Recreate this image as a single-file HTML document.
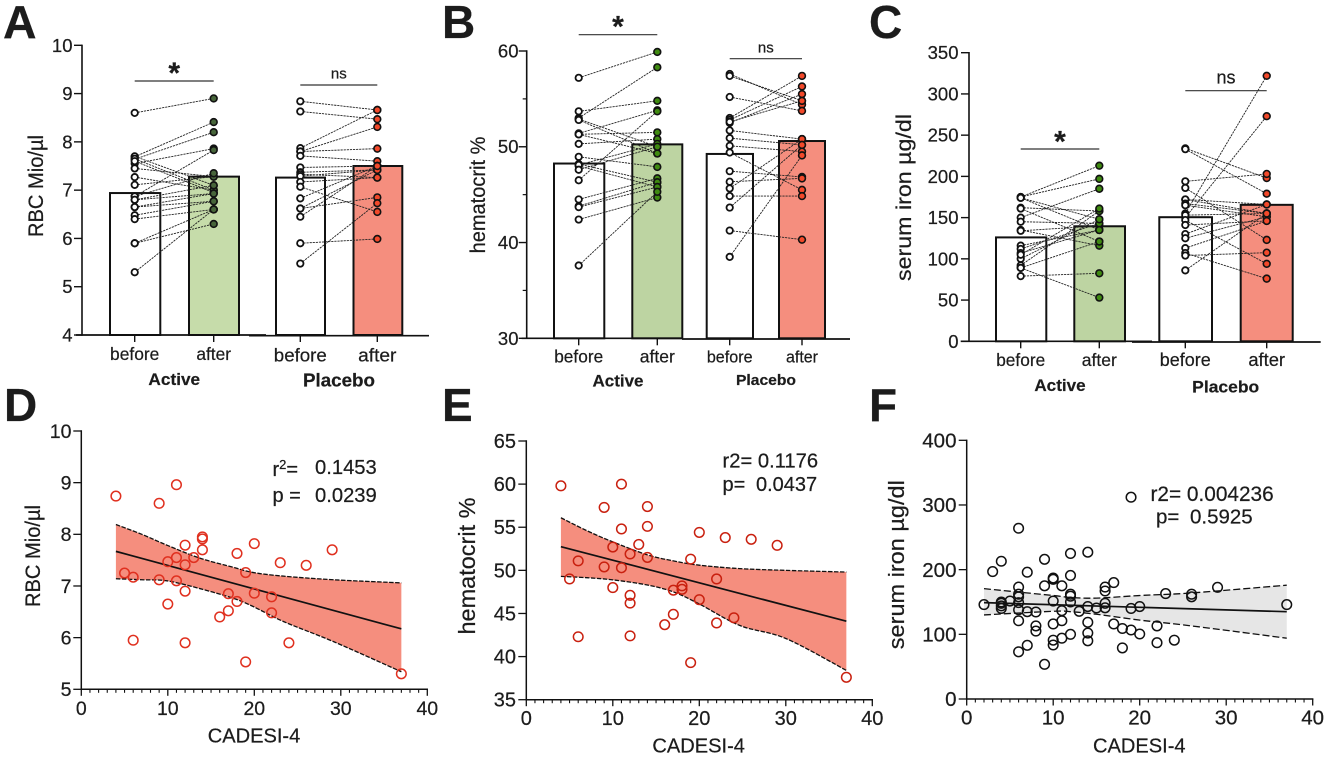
<!DOCTYPE html>
<html lang="en">
<head>
<meta charset="utf-8">
<title>RBC, hematocrit and serum iron before and after treatment</title>
<style>
html,body{margin:0;padding:0;background:#fff;width:1325px;height:757px;overflow:hidden}
svg{display:block}
text{font-family:"Liberation Sans",Arial,sans-serif;fill:#1c1c1c;stroke:#1c1c1c;stroke-width:.22}
</style>
</head>
<body>
<svg id="fig" width="1325" height="757" viewBox="0 0 1325 757" xmlns="http://www.w3.org/2000/svg">
  <text x="3" y="38" font-size="46.5" font-weight="700">A</text>
  <text x="442" y="38" font-size="46" font-weight="700">B</text>
  <text x="869" y="38" font-size="46" font-weight="700">C</text>
  <text x="4" y="421" font-size="46" font-weight="700">D</text>
  <text x="442" y="421" font-size="46" font-weight="700">E</text>
  <text x="869" y="421" font-size="46" font-weight="700">F</text>

  <g id="panelA"></g>
  <g id="panelB"></g>
  <g id="panelC"></g>
  <g id="panelD"></g>
  <g id="panelE"></g>
  <g id="panelF"></g>

  <text x="272.5" y="476" font-size="20">r<tspan dy="-7" font-size="13">2</tspan><tspan dy="7">=</tspan></text>
  <text x="315" y="474" font-size="20.2">0.1453</text>
  <text x="272.5" y="502" font-size="20">p =</text>
  <text x="315" y="502" font-size="20.2">0.0239</text>

  <text x="722.5" y="467.5" font-size="20.2">r2= 0.1176</text>
  <text x="722.5" y="491" font-size="20">p=</text>
  <text x="756" y="491" font-size="20">0.0437</text>

  <text x="1150.5" y="501" font-size="20.8">r2= 0.004236</text>
  <text x="1156" y="523.5" font-size="20.5">p=</text>
  <text x="1190" y="523.5" font-size="20.5">0.5925</text>
</svg>

<script>
/* ---------- chart data ---------- */
const barCategories = ['before', 'after', 'before', 'after'];
const groupNames = ['Active', 'Placebo'];

const rbcTicks = [4, 5, 6, 7, 8, 9, 10];
const rbcMeans = [6.94, 7.28, 7.26, 7.5];
const rbcActiveBefore = [8.6, 7.69, 7.64, 7.55, 6.87, 7.7, 7.65, 7.6, 7.45, 7.27, 7.11, 6.87, 6.8, 6.8, 6.65, 6.65, 6.48, 6.4, 5.9, 5.9, 5.3];
const rbcActiveAfter = [8.9, 8.41, 8.2, 7.86, 7.83, 7.1, 7.0, 6.95, 7.28, 7.0, 7.28, 7.35, 7.1, 6.93, 6.93, 6.77, 6.77, 6.6, 6.6, 6.3, 6.6];
const rbcPlaceboBefore = [8.84, 8.63, 7.87, 7.8, 7.8, 7.71, 7.47, 7.37, 7.33, 7.29, 7.17, 7.07, 6.83, 6.62, 6.62, 6.45, 5.9, 5.48];
const rbcPlaceboAfter = [8.66, 8.47, 8.66, 8.31, 7.86, 7.6, 7.5, 7.42, 7.26, 7.42, 7.26, 6.55, 7.5, 6.85, 7.42, 7.5, 5.99, 6.73];

const hctTicks = [30, 40, 50, 60];
const hctMinorTicks = [35, 45, 55];
const hctMeans = [48.25, 50.25, 49.25, 50.6];
const hctActiveBefore = [57.2, 53.7, 53.0, 52.9, 52.8, 51.4, 51.3, 51.3, 50.3, 48.95, 48.2, 48.0, 48.1, 47.6, 46.5, 44.5, 43.8, 43.7, 42.4, 37.6];
const hctActiveAfter = [59.9, 54.8, 58.3, 50.0, 49.3, 53.8, 51.5, 49.3, 50.8, 47.9, 46.3, 45.8, 50.3, 50.0, 53.7, 46.7, 46.3, 45.8, 44.7, 45.3];
const hctPlaceboBefore = [57.6, 57.4, 55.2, 53.0, 52.8, 52.5, 52.6, 51.7, 50.9, 50.1, 49.4, 47.45, 46.35, 45.65, 44.85, 43.65, 41.25, 38.5];
const hctPlaceboAfter = [54.4, 54.8, 53.75, 57.4, 56.3, 55.5, 54.8, 50.8, 50.2, 49.5, 45.5, 46.85, 46.7, 50.8, 44.85, 50.2, 40.3, 49.1];

const ironTicks = [0, 50, 100, 150, 200, 250, 300, 350];
const ironMeans = [126, 139.5, 150.5, 165.5];
const ironActiveBefore = [175, 175, 174, 174, 162, 161, 150, 145, 135, 134, 116, 112, 107, 100, 92, 89, 89, 79, 105];
const ironActiveAfter = [213, 197, 148, 135, 158, 121, 185, 143, 116, 140, 135, 143, 135, 148, 158, 121, 53, 82.5, 161];
const ironPlaceboBefore = [234, 233, 194, 186, 172, 172, 167, 165, 155, 150, 153, 147, 141, 130, 125, 113, 107, 104, 86];
const ironPlaceboAfter = [198, 179, 203, 123, 166, 155, 155, 151, 322, 273, 155, 94, 146, 166, 151, 146, 76, 107.5, 155];

const cadesiTicks = [0, 10, 20, 30, 40];

const rbcScatterTicks = [5, 6, 7, 8, 9, 10];
const rbcCadesi = [4, 5, 6, 6, 9, 9, 10, 10, 11, 11, 11, 12, 12, 12, 12, 13, 14, 14, 14, 16, 17, 17, 18, 18, 19, 19, 20, 20, 22, 22, 23, 24, 26, 29, 37];
const rbcValues = [8.74, 7.25, 7.17, 5.95, 8.6, 7.12, 7.47, 6.65, 8.96, 7.55, 7.1, 7.79, 7.41, 6.9, 5.9, 7.55, 7.95, 7.91, 7.7, 6.4, 6.85, 6.52, 7.63, 6.7, 7.26, 5.53, 7.82, 6.86, 6.79, 6.48, 7.45, 5.9, 7.4, 7.7, 5.3];
const rbcFitX = [4, 37];
const rbcFitY = [7.67, 6.17];
const rbcCiX = [4, 7, 9.9, 13.7, 17.6, 19.9, 23.4, 29.2, 37];
const rbcCiUpper = [8.19, 8.0, 7.79, 7.54, 7.36, 7.26, 7.19, 7.12, 7.06];
const rbcCiLower = [7.14, 7.12, 7.10, 6.95, 6.76, 6.6, 6.31, 5.92, 5.34];

const hctScatterTicks = [35, 40, 45, 50, 55, 60, 65];
const hctCadesi = [4, 5, 6, 6, 9, 9, 10, 10, 11, 11, 11, 12, 12, 12, 12, 13, 14, 14, 14, 16, 17, 17, 18, 18, 19, 19, 20, 20, 22, 22, 23, 24, 26, 29, 37];
const hctValues = [59.8, 49, 51.1, 42.3, 57.3, 50.4, 52.7, 48, 60, 54.8, 50.3, 51.9, 47.1, 46.2, 42.4, 53, 57.4, 55.1, 51.5, 43.7, 47.7, 44.9, 48.2, 47.8, 51.3, 39.3, 54.4, 46.6, 49, 43.9, 53.8, 44.5, 53.6, 52.9, 37.6];
const hctFitX = [4, 37];
const hctFitY = [52.75, 44.1];
const hctCiX = [4, 7, 10, 14, 17, 20, 24.7, 30, 37];
const hctCiUpper = [56.1, 54.6, 53.3, 51.8, 51.1, 50.6, 50.2, 50.0, 49.8];
const hctCiLower = [49.3, 49.15, 48.9, 48.3, 47.5, 46.1, 43.6, 42.1, 38.4];

const ironScatterTicks = [0, 100, 200, 300, 400];
const ironCadesi = [2, 3, 4, 4, 4, 4, 4, 5, 6, 6, 6, 6, 6, 6, 6, 6, 7, 7, 7, 8, 8, 8, 9, 9, 9, 10, 10, 10, 10, 10, 10, 11, 11, 11, 11, 12, 12, 12, 12, 12, 12, 13, 14, 14, 14, 14, 14, 15, 16, 16, 16, 16, 17, 17, 18, 18, 19, 19, 19, 20, 20, 22, 22, 23, 24, 26, 26, 29, 37];
const ironValues = [146, 197, 213, 150, 148, 144, 140, 151.5, 264, 173, 162, 158, 149, 138, 121, 73, 196, 135, 83, 134.5, 113, 105, 216, 175, 53.6, 187, 185, 151.5, 116, 91, 83.5, 175, 136.6, 121, 94, 225, 191, 162, 159, 150, 100, 135.6, 227, 143, 118.6, 102, 90, 140.7, 173, 167, 148, 141, 180, 116, 109, 79, 312, 140, 106.7, 143, 100.5, 113, 87, 163, 91, 162, 158, 172.7, 146];
const ironFitX = [2, 37];
const ironFitY = [149, 135];
const ironCiX = [2, 10, 12, 15, 20, 26, 37];
const ironCiUpper = [170.6, 160, 157, 156, 160, 164, 176];
const ironCiLower = [130, 135.6, 135, 131, 122, 113, 94];

/* ---------- helpers ---------- */
const NS = 'http://www.w3.org/2000/svg';
function mk(tag, parent) {
  const el = document.createElementNS(NS, tag);
  parent.appendChild(el);
  return el;
}
function setA(el, attrs) {
  for (const k in attrs) el.setAttribute(k, attrs[k]);
  return el;
}
function linScale(d0, d1, r0, r1) {
  return v => r0 + (v - d0) * (r1 - r0) / (d1 - d0);
}
function seg(parent, x1, y1, x2, y2, stroke, width, dash) {
  const l = mk('line', parent);
  setA(l, {x1: x1, y1: y1, x2: x2, y2: y2, stroke: stroke, 'stroke-width': width});
  if (dash) l.setAttribute('stroke-dasharray', dash);
  return l;
}
function txt(parent, s, x, y, size, anchor, bold, length) {
  const t = mk('text', parent);
  setA(t, {x: x, y: y, 'font-size': size, 'text-anchor': anchor});
  if (bold) t.setAttribute('font-weight', '700');
  if (length) {
    t.setAttribute('textLength', length);
    t.setAttribute('lengthAdjust', 'spacingAndGlyphs');
  }
  t.textContent = s;
  return t;
}
function yTitle(parent, s, baseX, centerY, size, length) {
  const t = txt(parent, s, 0, 0, size, 'middle', false, length);
  t.setAttribute('transform', 'translate(' + baseX + ',' + centerY + ') rotate(-90)');
  return t;
}
function smoothCurve(pts) {
  let d = '';
  for (let i = 0; i < pts.length - 1; i++) {
    const p0 = pts[Math.max(i - 1, 0)];
    const p1 = pts[i];
    const p2 = pts[i + 1];
    const p3 = pts[Math.min(i + 2, pts.length - 1)];
    d += 'C' + (p1[0] + (p2[0] - p0[0]) / 6) + ' ' + (p1[1] + (p2[1] - p0[1]) / 6) + ' ' +
      (p2[0] - (p3[0] - p1[0]) / 6) + ' ' + (p2[1] - (p3[1] - p1[1]) / 6) + ' ' + p2[0] + ' ' + p2[1];
  }
  return d;
}

/* ---------- paired bar panels ---------- */
function drawBarPanel(g, L, means, ticks, minorTicks, pairsA, pairsP, title) {
  const y = linScale(ticks[0], ticks[ticks.length - 1], L.bottom, L.top);

  means.forEach((m, i) => {
    const e = L.barEdges[i];
    const bar = mk('rect', g);
    setA(bar, {x: e[0], y: y(m), width: e[1] - e[0], height: L.bottom - y(m),
      fill: i === 1 ? L.greenBar : i === 3 ? L.redBar : '#fff', stroke: '#111', 'stroke-width': 2});
    
    
  });

  function drawPairs(before, after, xa, xb, color) {
    before.forEach((b, i) => {
      const l = seg(g, xa, y(b), xb, y(after[i]), '#222', 0.9, '2.2 0.9');
      
      
    });
    before.forEach(b => {
      const c = mk('circle', g);
      setA(c, {cx: xa, cy: y(b), r: 3.2, fill: '#fff', stroke: '#111', 'stroke-width': 1.8});
      
      
    });
    after.forEach(a => {
      const c = mk('circle', g);
      setA(c, {cx: xb, cy: y(a), r: 3.4, fill: color, stroke: '#111', 'stroke-width': 1.6});
      
      
    });
  }
  drawPairs(pairsA[0], pairsA[1], L.slots[0], L.slots[1], L.greenDot);
  drawPairs(pairsP[0], pairsP[1], L.slots[2], L.slots[3], L.redDot);

  const axisY = seg(g, L.axisX, L.top - 0.7, L.axisX, L.bottom + 0.7, '#111', 1.6);
  
  
  const axisX1 = seg(g, L.xStart, L.bottom, L.xBreak[0], L.bottom, '#111', 1.7);
  
  
  const axisX2 = seg(g, L.xBreak[1], L.bottom + 0.7, L.xEnd, L.bottom + 0.7, '#111', 1.7);
  
  

  ticks.forEach(v => {
    const tk = seg(g, L.axisX - 8, y(v), L.axisX, y(v), '#111', 1.4);
    
    
    const lb = txt(g, String(v), L.tickEnd, y(v) + L.tickFont * 0.35, L.tickFont, 'end');
    
    
  });
  minorTicks.forEach(v => {
    const tk = seg(g, L.axisX - 4, y(v), L.axisX, y(v), '#111', 1.2);
    
    
  });

  barCategories.forEach((c, i) => {
    const tk = seg(g, L.slots[i], L.bottom, L.slots[i], L.bottom + 7, '#111', 1.4);
    
    
    const lb = txt(g, c, L.slots[i], L.catBase[i], L.catFont[i], 'middle', false, L.catWidth[i]);
    
    
  });
  groupNames.forEach((n, i) => {
    const lb = txt(g, n, L.groupX[i], L.groupBase[i], L.groupFont[i], 'middle', true, L.groupWidth[i]);
    
    
  });

  const st = yTitle(g, title, L.titleX, L.titleY, L.titleFont, L.titleLen);
  
  

  const sb1 = seg(g, L.slots[0], L.sigLineA, L.slots[1], L.sigLineA, '#333', 1.2);
  
  
  const sLabel = txt(g, '*', (L.slots[0] + L.slots[1]) / 2, L.starBase, 30, 'middle', true);
  
  
  const sb2 = seg(g, L.slots[2], L.sigLineP, L.slots[3], L.sigLineP, '#333', 1.2);
  
  
  const nsLabel = txt(g, 'ns', (L.slots[2] + L.slots[3]) / 2, L.nsBase, L.nsFont, 'middle');
  
  
}

/* ---------- correlation panels ---------- */
function drawScatterPanel(g, L, xVals, yVals, ticks, fitX, fitY, ciX, ciU, ciL, title) {
  const x = linScale(0, 40, L.x0, L.x40);
  const y = linScale(ticks[0], ticks[ticks.length - 1], L.bottom, L.top);

  const upperPts = ciX.map((v, i) => [x(v), y(ciU[i])]);
  const lowerPts = ciX.map((v, i) => [x(v), y(ciL[i])]);
  const lowerRev = lowerPts.slice().reverse();

  const band = mk('path', g);
  setA(band, {
    d: 'M' + upperPts[0].join(' ') + smoothCurve(upperPts) + 'L' + lowerRev[0].join(' ') + smoothCurve(lowerRev) + 'Z',
    fill: L.bandFill, stroke: 'none'
  });
  
  

  const up = mk('path', g);
  setA(up, {d: 'M' + upperPts[0].join(' ') + smoothCurve(upperPts), fill: 'none', stroke: '#111', 'stroke-width': 1.3, 'stroke-dasharray': L.dash});
  
  
  const lo = mk('path', g);
  setA(lo, {d: 'M' + lowerPts[0].join(' ') + smoothCurve(lowerPts), fill: 'none', stroke: '#111', 'stroke-width': 1.3, 'stroke-dasharray': L.dash});
  
  

  const fit = seg(g, x(fitX[0]), y(fitY[0]), x(fitX[1]), y(fitY[1]), '#111', 1.7);
  
  

  xVals.forEach((v, i) => {
    const c = mk('circle', g);
    setA(c, {cx: x(v), cy: y(yVals[i]), r: 4.8, fill: 'none', stroke: L.dot, 'stroke-width': 1.5});
    
    
  });

  const ay = seg(g, L.x0, L.top - 0.7, L.x0, L.bottom + 0.7, '#111', 1.5);
  
  
  const ax = seg(g, L.x0 - 0.7, L.bottom, L.x40 + 0.7, L.bottom, '#111', 1.5);
  
  

  ticks.forEach(v => {
    const tk = seg(g, L.x0 - 8, y(v), L.x0, y(v), '#111', 1.3);
    
    
    const lb = txt(g, String(v), L.tickEnd, y(v) + L.tickFont * 0.35, L.tickFont, 'end');
    
    
  });
  for (let m = 1; m < 40; m++) {
    if (m % 10 === 0) continue;
    const tk = seg(g, x(m), L.bottom, x(m), L.bottom + 3.5, '#111', 1.1);
    
    
  }
  cadesiTicks.forEach(v => {
    const tk = seg(g, x(v), L.bottom, x(v), L.bottom + 6.5, '#111', 1.3);
    
    
    const lb = txt(g, String(v), x(v), L.xTickBase, L.tickFont, 'middle');
    
    
  });

  const xt = txt(g, 'CADESI-4', L.xTitleX, L.xTitleBase, 20, 'middle', false, 92.5);
  
  
  const yt = yTitle(g, title, L.titleX, L.titleY, L.titleFont, L.titleLen);
  
  
}

/* ---------- layouts ---------- */
const layoutA = {
  axisX: 82, top: 45.3, bottom: 335, xStart: 76, xEnd: 429, xBreak: [266, 249],
  slots: [134.7, 213.7, 300.3, 377.3],
  barEdges: [[110, 160.3], [189, 239], [276, 325], [353.5, 402.3]],
  greenBar: '#c6dcaa', redBar: '#f58e7e', greenDot: '#47653a', redDot: '#f2492a',
  tickFont: 18.5, tickEnd: 72.5,
  catBase: [360, 360, 361.7, 361.7], catFont: [17.5, 17.5, 18.8, 18.8], catWidth: [49.3, 34.7, 53, 38.3],
  groupX: [174.3, 339], groupBase: [385, 386.7], groupFont: [17, 18], groupWidth: [51.7, 72],
  titleX: 43, titleY: 186, titleFont: 21.5, titleLen: 102,
  sigLineA: 81, starBase: 83, sigLineP: 85, nsBase: 78.3, nsFont: 15
};
const layoutB = {
  axisX: 526.7, top: 51, bottom: 338.3, xStart: 521.7, xEnd: 850, xBreak: [683, 682],
  slots: [578.7, 657.3, 729.7, 802],
  barEdges: [[554, 604.3], [632.3, 682.3], [706.7, 753], [779, 825]],
  greenBar: '#bdd4a2', redBar: '#f58e7e', greenDot: '#3f8a10', redDot: '#f2492a',
  tickFont: 18.5, tickEnd: 518.5,
  catBase: [362.3, 362.3, 362.3, 362.3], catFont: [17.5, 17.5, 16.5, 16.5], catWidth: [49, 35, 45.7, 32],
  groupX: [618, 766], groupBase: [386.7, 385], groupFont: [17, 15], groupWidth: [51, 60],
  titleX: 485, titleY: 195, titleFont: 21.5, titleLen: 116.7,
  sigLineA: 34.7, starBase: 36.5, sigLineP: 58.7, nsBase: 52.3, nsFont: 15
};
const layoutC = {
  axisX: 969, top: 52.7, bottom: 341.3, xStart: 960.7, xEnd: 1320.7, xBreak: [1152, 1132],
  slots: [1020.7, 1099.3, 1185.3, 1266.7],
  barEdges: [[996, 1046.3], [1074.3, 1125], [1159.3, 1212], [1240.7, 1292.7]],
  greenBar: '#bdd4a2', redBar: '#f58e7e', greenDot: '#3f8a10', redDot: '#f2492a',
  tickFont: 18.5, tickEnd: 958.5,
  catBase: [366, 366, 366, 366], catFont: [17.5, 17.5, 18, 18], catWidth: [49, 35, 51, 36.7],
  groupX: [1060, 1225.7], groupBase: [391, 392.3], groupFont: [17, 17], groupWidth: [51.3, 67],
  titleX: 911, titleY: 197.5, titleFont: 21.5, titleLen: 167,
  sigLineA: 149, starBase: 151.5, sigLineP: 90.7, nsBase: 83.3, nsFont: 18
};
const layoutD = {
  x0: 81.3, x40: 427.3, top: 431, bottom: 689.3, tickFont: 19.5, tickEnd: 71.5,
  xTickBase: 715, xTitleX: 254, xTitleBase: 742.7,
  titleX: 40, titleY: 556, titleFont: 21.5, titleLen: 102,
  bandFill: '#f58e7e', dot: '#e0301f', dash: '4.5 1.5'
};
const layoutE = {
  x0: 526.3, x40: 872.3, top: 441, bottom: 699.7, tickFont: 20, tickEnd: 516,
  xTickBase: 725, xTitleX: 698.7, xTitleBase: 752.3,
  titleX: 475, titleY: 566, titleFont: 23, titleLen: 137,
  bandFill: '#f58e7e', dot: '#c9200f', dash: '4.5 1.5'
};
const layoutF = {
  x0: 966.7, x40: 1312.7, top: 440.3, bottom: 699, tickFont: 20.5, tickEnd: 956.5,
  xTickBase: 724.5, xTitleX: 1139.3, xTitleBase: 752.3,
  titleX: 904, titleY: 564.7, titleFont: 22, titleLen: 169,
  bandFill: '#e6e6e6', dot: '#111', dash: '7 3'
};

/* ---------- render ---------- */
drawBarPanel(document.getElementById('panelA'), layoutA, rbcMeans, rbcTicks, [],
  [rbcActiveBefore, rbcActiveAfter], [rbcPlaceboBefore, rbcPlaceboAfter], 'RBC Mio/µl');
drawBarPanel(document.getElementById('panelB'), layoutB, hctMeans, hctTicks, hctMinorTicks,
  [hctActiveBefore, hctActiveAfter], [hctPlaceboBefore, hctPlaceboAfter], 'hematocrit %');
drawBarPanel(document.getElementById('panelC'), layoutC, ironMeans, ironTicks, [],
  [ironActiveBefore, ironActiveAfter], [ironPlaceboBefore, ironPlaceboAfter], 'serum iron µg/dl');
drawScatterPanel(document.getElementById('panelD'), layoutD, rbcCadesi, rbcValues, rbcScatterTicks,
  rbcFitX, rbcFitY, rbcCiX, rbcCiUpper, rbcCiLower, 'RBC Mio/µl');
drawScatterPanel(document.getElementById('panelE'), layoutE, hctCadesi, hctValues, hctScatterTicks,
  hctFitX, hctFitY, hctCiX, hctCiUpper, hctCiLower, 'hematocrit %');
drawScatterPanel(document.getElementById('panelF'), layoutF, ironCadesi, ironValues, ironScatterTicks,
  ironFitX, ironFitY, ironCiX, ironCiUpper, ironCiLower, 'serum iron µg/dl');
</script>
</body>
</html>
